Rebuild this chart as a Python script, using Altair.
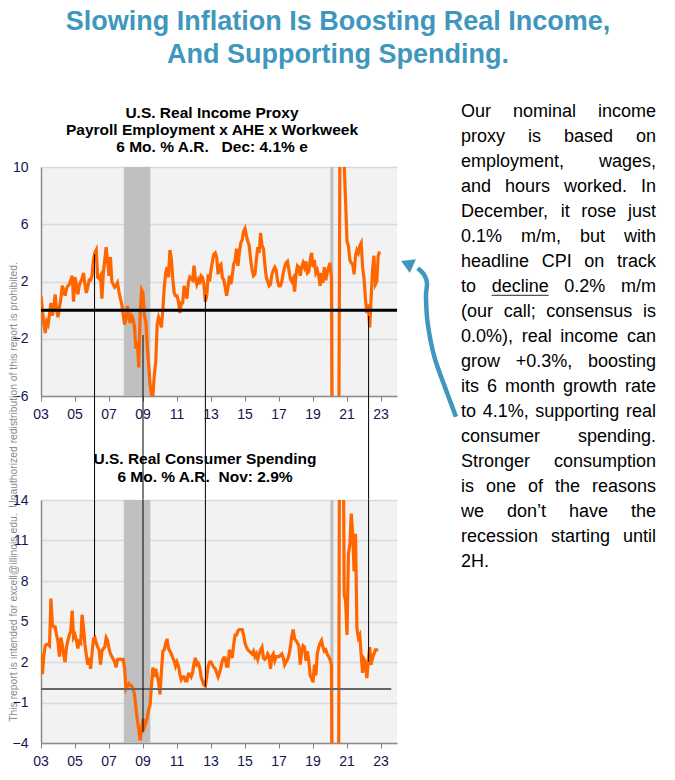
import altair as alt
import pandas as pd

FONT = "Liberation Sans"
ORANGE = "#ff6600"
TEAL = "#3f97bd"
LABEL = "#141450"

# ---------------- data (6 mo. % a.r., monthly from Jan 2003) ----------------
income = [
    1.0, 0.0, -1.0, -1.6, -0.8, -1.0, -0.3, 0.5, -0.4, 0.2, 1.1, 0.0,      # 2003
    -0.5, 0.2, 0.8, 1.7, 1.4, 1.0, 1.5, 1.7, 1.8, 2.1, 2.4, 0.6,          # 2004
    2.3, 1.8, 1.1, 1.7, 2.0, 2.2, 2.6, 1.8, 1.2, 1.6, 2.1, 2.1,           # 2005
    2.4, 3.5, 4.0, 4.2, 2.3, 2.2, 2.4, 0.8, 2.6, 3.5, 4.4, 3.4,           # 2006
    2.4, 3.7, 2.0, 1.8, 1.6, 1.7, 1.9, 1.3, 0.8, 0.4, -0.3, -1.0,         # 2007
    -0.6, 0.3, -0.5, -0.9, -0.4, -0.6, -1.2, -2.7, -2.2, -4.0, -0.2, 1.4, # 2008
    1.2, -0.4, -0.8, -2.5, -3.8, -5.2, -5.9, -6.0, -4.5, -3.6, -1.0, -0.5,# 2009
    -0.8, -1.2, 0.0, 1.6, 2.6, 3.0, 2.3, 4.2, 3.6, 2.2, 1.2, 1.0,         # 2010
    1.0, 0.6, -0.2, 0.5, 0.5, 1.7, 1.2, 0.8, 1.9, 2.3, 2.2, 2.1,          # 2011
    3.1, 2.2, 1.8, 2.1, 1.8, 2.4, 2.3, 1.8, 0.6, 1.0, 2.5, 2.0,           # 2012
    2.8, 3.4, 3.9, 4.0, 3.7, 2.5, 3.1, 3.2, 2.3, 2.1, 1.6, 1.0,           # 2013
    1.6, 2.4, 1.8, 2.4, 3.2, 3.5, 4.3, 3.1, 4.0, 4.7, 4.9, 5.5,           # 2014
    5.7, 5.2, 4.8, 4.5, 3.5, 2.8, 2.4, 2.5, 3.5, 4.4, 4.0, 5.4,           # 2015
    4.5, 4.3, 3.2, 2.3, 2.0, 1.7, 1.8, 2.5, 2.8, 3.0, 2.8, 2.0,           # 2016
    1.7, 1.7, 2.0, 2.6, 3.0, 3.3, 3.4, 2.8, 2.2, 2.0, 2.2, 1.3,           # 2017
    2.5, 3.1, 3.0, 2.4, 3.0, 3.3, 3.0, 3.4, 2.6, 2.7, 3.5, 4.0,           # 2018
    3.0, 3.5, 2.6, 2.8, 2.4, 1.7, 2.6, 1.9, 3.0, 2.1, 2.6, 3.0,           # 2019
    3.3, 2.2, -20.0, -45.0, -40.0, -30.0, -15.0, 12.0, 25.0, 20.0, 10.2, 7.6,  # 2020
    4.8, 4.5, 3.5, 3.3, 3.2, 2.5, 3.8, 4.2, 4.0, 4.5, 4.7, 3.0,           # 2021
    2.2, 0.8, -0.2, 0.4, -1.2, 0.8, 2.8, 3.8, 1.8, 2.0, 3.8, 4.1,         # 2022
]

spending = [
    2.6, 1.1, 2.5, 3.2, 3.3, 3.3, 3.2, 6.7, 4.8, 4.6, 4.6, 4.0,           # 2003
    3.5, 2.4, 3.8, 3.3, 2.5, 2.0, 3.1, 3.6, 4.0, 4.3, 5.8, 3.8,           # 2004
    4.0, 3.6, 3.0, 3.5, 3.4, 5.5, 4.5, 3.3, 2.5, 1.8, 2.3, 1.5,           # 2005
    2.6, 3.7, 3.8, 3.4, 3.1, 2.9, 1.8, 2.8, 3.0, 3.1, 3.8, 3.6,           # 2006
    3.0, 2.6, 2.4, 2.2, 2.0, 1.6, 2.2, 2.2, 2.2, 2.2, 2.2, 1.6,           # 2007
    0.0, 0.2, 0.4, 0.3, 0.2, 0.0, -0.4, -1.4, -2.3, -3.0, -3.8, -3.0,     # 2008
    -2.2, -2.8, -2.5, -2.1, -1.5, -1.2, 0.3, 1.6, 0.9, 1.5, 1.0, 0.5,     # 2009
    -0.4, 1.3, 2.8, 2.9, 3.4, 3.7, 3.0, 2.8, 2.6, 2.3, 2.1, 1.7,          # 2010
    2.0, 1.7, 1.1, 0.7, 0.9, 0.9, 0.6, 0.6, 1.1, 1.1, 0.9, 1.2,           # 2011
    1.9, 2.3, 1.8, 1.9, 1.6, 0.9, 0.6, 0.3, 0.2, 0.9, 1.7, 2.0,           # 2012
    2.0, 1.8, 1.6, 1.5, 1.2, 0.9, 1.2, 1.6, 2.1, 2.3, 2.3, 1.7,           # 2013
    1.7, 2.9, 2.6, 2.3, 3.3, 4.0, 4.0, 4.3, 4.4, 4.4, 4.4, 4.0,           # 2014
    3.4, 3.1, 2.9, 2.8, 2.7, 2.6, 2.8, 2.4, 2.6, 2.2, 2.6, 2.9,           # 2015
    3.1, 2.3, 2.2, 2.3, 2.6, 2.4, 1.5, 2.4, 2.6, 2.1, 2.4, 2.4,           # 2016
    2.4, 2.5, 2.6, 2.3, 1.8, 2.0, 2.2, 2.5, 3.1, 3.9, 4.4, 3.7,           # 2017
    3.6, 3.4, 3.2, 1.8, 2.8, 3.2, 3.1, 2.1, 2.8, 2.1, 1.0, 0.8,           # 2018
    0.5, 1.8, 1.0, 2.6, 3.1, 3.4, 3.6, 3.1, 2.8, 2.9, 2.6, 2.4,           # 2019
    2.2, 1.8, -20.0, -40.0, -35.0, -25.0, -10.0, 30.0, 40.0, 25.0, 7.0, 6.5,  # 2020
    4.0, 10.0, 10.7, 13.0, 11.5, 8.7, 11.5, 4.5, 3.8, 4.0, 2.5, 1.2,      # 2021
    2.2, 2.0, 0.8, 2.0, 3.1, 1.8, 2.3, 2.6, 2.9, 2.9, 2.9,                # 2022 (Jan-Nov)
]
START_YEAR = 2003

recession_start = [2007.87, 2020.02]
recession_end = [2009.43, 2020.20]

connector_dates = [2006.15, 2009.0, 2012.67, 2022.27]
connector_income = [3.9, -1.74, 1.06, -0.41]
connector_spending = [3.9, -3.2, 0.18, 2.03]

x_tick_years = list(range(2003, 2024, 2))
x_tick_labels = ["03", "05", "07", "09", "11", "13", "15", "17", "19", "21", "23"]
income_ticks = [-6, -2, 2, 6, 10]
spending_ticks = [-4, -1, 2, 5, 8, 11, 14]

NB = "\u00a0"
main_title = ["Slowing Inflation Is Boosting Real Income,", "And Supporting Spending."]
top_title = ["U.S. Real Income Proxy", "Payroll Employment x AHE x Workweek",
             "6 Mo. % A.R." + NB * 3 + "Dec: 4.1% e"]
bottom_title = ["U.S. Real Consumer Spending", "6 Mo. % A.R." + NB * 2 + "Nov: 2.9%"]
commentary = [
    "Our nominal income",
    "proxy is based on",
    "employment, wages,",
    "and hours worked. In",
    "December, it rose just",
    "0.1% m/m, but with",
    "headline CPI on track",
    "to decline 0.2% m/m",
    "(our call; consensus is",
    "0.0%), real income can",
    "grow +0.3%, boosting",
    "its 6 month growth rate",
    "to 4.1%, supporting real",
    "consumer spending.",
    "Stronger consumption",
    "is one of the reasons",
    "we don\u2019t have the",
    "recession starting until",
    "2H.",
]
watermark = ("This report is intended for excell@illinois.edu." + NB + " "
             "Unauthorized redistribution of this report is prohibited.")

# ---------------- layout constants ----------------
W, H1, H2, GAP = 356, 229, 243, 104

# Arial / Liberation Sans advance widths (1/1000 em)
CW = {' ': 278, NB: 278, '%': 889, '(': 333, ')': 333, '+': 584, ',': 278, '-': 333, '.': 278,
      '/': 278, ':': 278, ';': 278, '@': 1015, '\u2019': 222,
      'A': 667, 'B': 667, 'C': 722, 'D': 722, 'E': 667, 'F': 611, 'G': 778, 'H': 722,
      'I': 278, 'O': 778, 'P': 667, 'R': 722, 'S': 667, 'T': 611, 'U': 722, 'W': 944,
      'a': 556, 'b': 556, 'c': 500, 'd': 556, 'e': 556, 'f': 278, 'g': 556, 'h': 556,
      'i': 222, 'j': 222, 'k': 500, 'l': 222, 'm': 833, 'n': 556, 'o': 556, 'p': 556,
      'q': 556, 'r': 333, 's': 500, 't': 278, 'u': 556, 'v': 500, 'w': 722, 'x': 500,
      'y': 500, 'z': 500}


def tw(s, size):
    return sum(CW.get(c, 556) for c in s) * size / 1000.0


# justified commentary text (positions relative to top panel origin)
TXT_SIZE, TXT_L, TXT_R, TXT_Y0, TXT_LH = 18, 420, 615, -49.7, 25
word_rows = []
underline = None
for i, line in enumerate(commentary):
    words = line.split()
    widths = [tw(w, TXT_SIZE) for w in words]
    y = TXT_Y0 + i * TXT_LH
    if i == len(commentary) - 1 or len(words) == 1:
        gap = tw(' ', TXT_SIZE)
    else:
        gap = (TXT_R - TXT_L - sum(widths)) / (len(words) - 1)
    x = TXT_L
    for w, wd in zip(words, widths):
        word_rows.append({"x": x, "y": y, "w": w})
        if w == "decline":
            underline = (x, x + wd, y + 3)
        x += wd + gap
words_df = pd.DataFrame(word_rows)

arrow_df = pd.DataFrame({
    "ax": [415, 405, 393.3, 386.7, 385, 386, 383.3, 376.7],
    "ay": [249.7, 223, 189.7, 156.3, 129.7, 116.3, 108, 101.3],
})
arrow_df["k"] = range(len(arrow_df))

inc_df = pd.DataFrame({"date": [START_YEAR + i / 12 for i in range(len(income))], "v": income})
spe_df = pd.DataFrame({"date": [START_YEAR + i / 12 for i in range(len(spending))], "v": spending})
rec_df = pd.DataFrame({"start": recession_start, "end": recession_end})
con_df = pd.DataFrame({"date": connector_dates, "top": connector_income, "bot": connector_spending})
tick_df = pd.DataFrame({"yr": x_tick_years, "lab": x_tick_labels})
one = pd.DataFrame({"a": [0]})

xscale = alt.Scale(domain=[2003, 2023.94], nice=False, zero=False)
xaxis = alt.Axis(values=x_tick_years, title=None, labels=False)


def panel(df, ydom, yticks, height):
    ys = alt.Scale(domain=ydom, nice=False, zero=False)
    ya = alt.Axis(values=yticks, title=None)
    rec = alt.Chart(rec_df).mark_rect(color="#c0c0c0").encode(
        x=alt.X("start:Q", scale=xscale, axis=xaxis), x2="end:Q")
    line = alt.Chart(df).mark_line(color=ORANGE, strokeWidth=3.2, clip=True).encode(
        x=alt.X("date:Q", scale=xscale, axis=xaxis),
        y=alt.Y("v:Q", scale=ys, axis=ya))
    labs = alt.Chart(tick_df).mark_text(
        align="center", baseline="middle", fontSize=14, font=FONT, color=LABEL).encode(
        x=alt.X("yr:Q", scale=xscale, axis=xaxis), y=alt.value(height + 19), text="lab:N")
    return rec, line, labs, ys, ya


def panel_title(lines, cx, y_first, lh):
    return alt.Chart(one).mark_text(
        text=lines, align="center", baseline="alphabetic", fontSize=15.5, fontWeight="bold",
        font=FONT, color="black", lineHeight=lh).encode(x=alt.value(cx), y=alt.value(y_first))


# ---------------- top panel ----------------
rec1, line1, labs1, ys1, ya1 = panel(inc_df, [-6, 10], income_ticks, H1)
zero1 = alt.Chart(one).mark_rule(color="black", strokeWidth=3).transform_calculate(
    z="0").encode(y=alt.Y("z:Q", scale=ys1, axis=ya1))
conn1 = alt.Chart(con_df).mark_rule(color="black", strokeWidth=1).encode(
    x=alt.X("date:Q", scale=xscale, axis=xaxis), y=alt.Y("top:Q", scale=ys1, axis=ya1),
    y2=alt.value(H1 + GAP))

title_mark = alt.Chart(one).mark_text(
    text=main_title, align="center", baseline="alphabetic", fontSize=27, fontWeight="bold",
    font=FONT, color=TEAL, lineHeight=33).encode(x=alt.value(297), y=alt.value(-137))

words_mark = alt.Chart(words_df).mark_text(
    align="left", baseline="alphabetic", fontSize=TXT_SIZE, font=FONT, color="black").encode(
    x=alt.X("x:Q", scale=None, axis=None), y=alt.Y("y:Q", scale=None, axis=None), text="w:N")

ul_mark = alt.Chart(one).mark_rule(color="#555555", strokeWidth=1.3).encode(
    x=alt.value(underline[0]), x2=alt.value(underline[1]), y=alt.value(underline[2]))

arrow_line = alt.Chart(arrow_df).mark_line(color=TEAL, strokeWidth=4.5, interpolate="cardinal").encode(
    x=alt.X("ax:Q", scale=None, axis=None), y=alt.Y("ay:Q", scale=None, axis=None), order="k:Q")
arrow_head = alt.Chart(one).mark_point(shape="triangle-up", filled=True, color=TEAL, opacity=1,
                                       size=220, angle=294).encode(
    x=alt.value(366), y=alt.value(96.5))

wm_size = 460 / (tw(watermark, 1))
wm_mark = alt.Chart(one).mark_text(
    text=watermark, angle=270, align="center", baseline="middle", fontSize=wm_size,
    font=FONT, color="#8a8a8a").encode(x=alt.value(-27), y=alt.value(325))

ttl1 = panel_title(top_title, 171, -49, 17)

top = alt.layer(rec1, line1, zero1, conn1, labs1, ttl1, title_mark, words_mark, ul_mark,
                arrow_line, arrow_head, wm_mark).properties(width=W, height=H1)

# ---------------- bottom panel ----------------
rec2, line2, labs2, ys2, ya2 = panel(spe_df, [-4, 14], spending_ticks, H2)
zero2 = alt.Chart(one).mark_rule(color="#666666", strokeWidth=2).transform_calculate(
    z="0", xa="2003", xb="2023.6").encode(
    y=alt.Y("z:Q", scale=ys2, axis=ya2), x=alt.X("xa:Q", scale=xscale, axis=xaxis), x2="xb:Q")
conn2 = alt.Chart(con_df).mark_rule(color="black", strokeWidth=1).encode(
    x=alt.X("date:Q", scale=xscale, axis=xaxis), y=alt.Y("bot:Q", scale=ys2, axis=ya2),
    y2=alt.value(0))
ttl2 = panel_title(bottom_title, 164, -36, 18)

bottom = alt.layer(rec2, line2, zero2, conn2, labs2, ttl2).properties(width=W, height=H2)

chart = alt.vconcat(top, bottom, spacing=GAP, bounds="flush").properties(
    padding=0
).configure_view(
    fill="#f2f2f2", stroke=None
).configure_axis(
    labelFont=FONT, labelFontSize=14, labelColor=LABEL, labelOverlap=False,
    labelFlush=False, domainColor="#8c8c8c", domainWidth=1.5,
).configure_axisX(
    grid=False, ticks=True, tickSize=5, tickColor="#808080",
).configure_axisY(
    grid=True, gridColor="#d9d9d9", gridWidth=1.5, ticks=False, tickSize=0, labelPadding=13,
)

chart.save("out.html", embed_options={"renderer": "svg", "actions": False})
